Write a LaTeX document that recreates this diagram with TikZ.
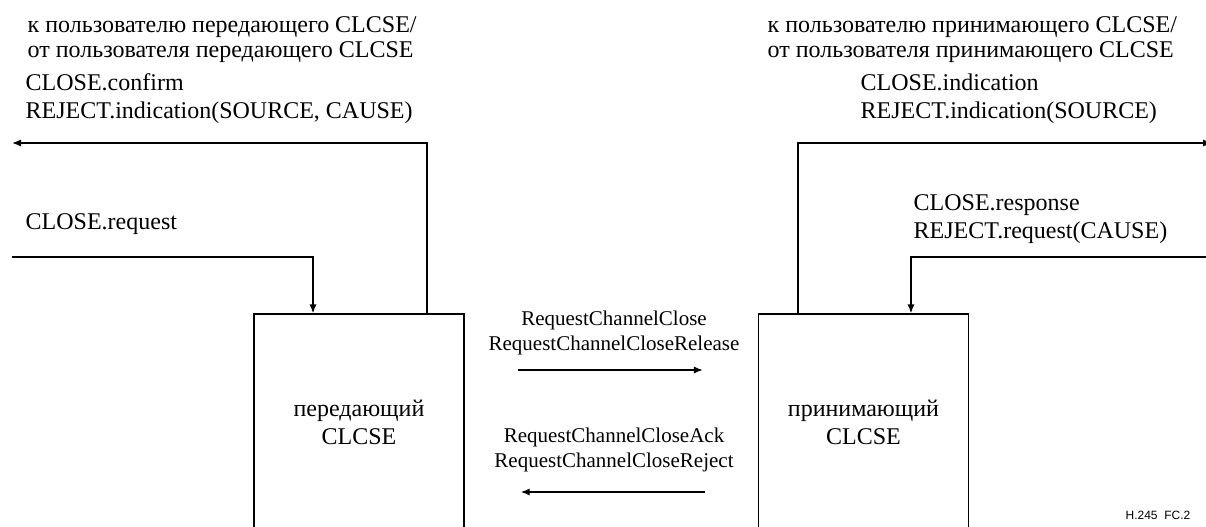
\documentclass[tikz,border=0pt]{standalone}
\usepackage{fontspec}
\setmainfont{Liberation Serif}
\setsansfont{Liberation Sans}
\usetikzlibrary{arrows.meta,positioning}

\begin{document}
\begin{tikzpicture}[x=0.5pt, y=-0.5pt, line width=0.7pt,
  >={Latex[length=4.5pt,width=3.6pt]},
  txt/.style={font=\fontsize{12}{14}\selectfont, align=left, inner sep=0pt, anchor=base west},
  usr/.style={font=\fontsize{12}{12.5}\selectfont, align=left, inner sep=0pt, anchor=base west},
  msg/.style={font=\fontsize{10.5}{12.5}\selectfont, align=center, inner sep=0pt, anchor=base},
  clcse/.style={draw, minimum width=105pt, minimum height=108pt, inner sep=0pt, align=center,
    font=\fontsize{12}{14}\selectfont}]
\useasboundingbox (0,0) rectangle (1206,526);
% user side texts (anchored at the baseline of the last line)
\node[usr] (userL) at (27,57) {к пользователю передающего CLCSE/\\от пользователя передающего CLCSE};
\node[txt] (confL) at (25,118) {CLOSE.confirm\\REJECT.indication(SOURCE, CAUSE)};
\node[txt] (reqL) at (25,229) {CLOSE.request};
\node[usr] (userR) at (767,57) {к пользователю принимающего CLCSE/\\от пользователя принимающего CLCSE};
\node[txt] (indR) at (860,118) {CLOSE.indication\\REJECT.indication(SOURCE)};
\node[txt] (respR) at (913,238) {CLOSE.response\\REJECT.request(CAUSE)};
% the two CLCSE
\node[clcse] (sender) at (359,422) {передающий\\CLCSE};
\node[clcse] (receiver) at (863.5,422) {принимающий\\CLCSE};
\coordinate (toUserL) at (12,143);
\coordinate (fromUserL) at (12,257);
\coordinate (toUserR) at (1212,143);
\coordinate (fromUserR) at (1206,257);
\draw[->] ([xshift=34pt]sender.north) |- (toUserL);
\draw[->] (fromUserL) -| ([xshift=-23pt]sender.north);
\draw[->] ([xshift=-32.75pt]receiver.north) |- (toUserR);
\draw[->] (fromUserR) -| ([xshift=23.75pt]receiver.north);
% messages between the peers
\node[msg] (fwdMsg) at (614,350) {RequestChannelClose\\RequestChannelCloseRelease};
\node[msg] (backMsg) at (614,467) {RequestChannelCloseAck\\RequestChannelCloseReject};
\draw[->, shorten <=26.5pt, shorten >=27.5pt] ([yshift=26pt]sender.east) -- ([yshift=26pt]receiver.west);
\draw[->, shorten <=26.5pt, shorten >=28pt] ([yshift=-35pt]receiver.west) -- ([yshift=-35pt]sender.east);
\node[font=\sffamily\fontsize{6}{7}\selectfont, inner sep=0pt, anchor=base east] (figId) at (1191,519) {H.245~~FC.2};
\end{tikzpicture}
\end{document}
